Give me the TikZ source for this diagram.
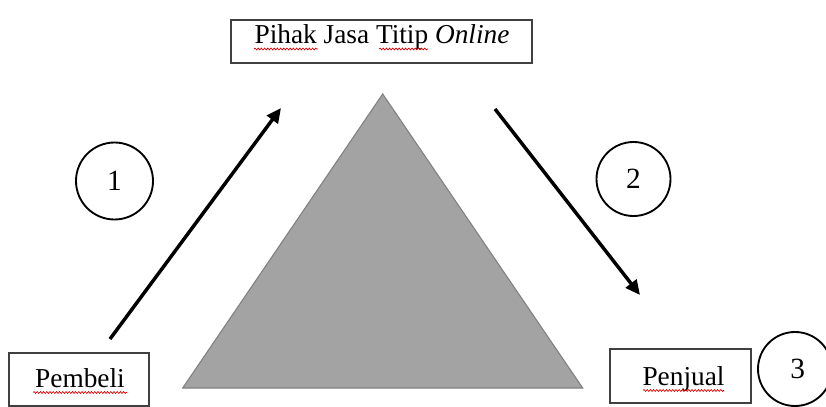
\documentclass[tikz,border=0pt]{standalone}
\usepackage{fontspec}
\setmainfont{Liberation Serif}
\usetikzlibrary{arrows.meta,decorations.pathmorphing}
\begin{document}
\begin{tikzpicture}[x=0.75pt,y=-0.75pt,
  box/.style={draw=black!75, line width=1pt, fill=white, inner sep=0pt},
  lbl/.style={anchor=base, inner sep=0pt, font=\fontsize{20.5}{24}\selectfont},
  num/.style={circle, draw, line width=1.4pt, inner sep=0pt, font=\fontsize{22}{26}\selectfont},
  flow/.style={line width=2.6pt, -{Triangle[length=11pt,width=10pt]}},
  typo/.style={draw=red!85!black, line width=0.5pt, decorate,
    decoration={snake, amplitude=0.7pt, segment length=2.4pt}}]
\useasboundingbox (0,0) rectangle (826,407);
\fill[white] (0,0) rectangle (826,407);

% central triangle
\draw[fill=black!36, draw=black!50, line width=0.8pt]
  (382.7,94) -- (582.7,388) -- (182.7,388) -- cycle;

% parties
\node[box, minimum width=225.75pt, minimum height=32.25pt] (topbox) at (381.5,41.5) {};
\node[lbl] (toptext) at (382,43) {Pihak Jasa Titip \textit{Online}};
\node[box, minimum width=105pt, minimum height=39.75pt] (buybox) at (79,379.5) {};
\node[lbl] (buytext) at (80,387) {Pembeli};
\node[box, minimum width=105.75pt, minimum height=40.5pt] (sellbox) at (680.5,376) {};
\node[lbl] (selltext) at (683.5,385) {Penjual};

% spelling marks under the words
\draw[typo] (254,49) -- (318,49);
\draw[typo] (379,49) -- (428,49);
\draw[typo] (33,392.5) -- (127,392.5);
\draw[typo] (643,390.5) -- (724,390.5);

% step numbers
\node[num, minimum size=57.75pt] (n1) at (114.5,181) {1};
\node[num, minimum size=55.5pt] (n2) at (633.5,179) {2};
\node[num, minimum size=55.5pt] (n3) at (795,369) {\hspace*{4pt}\raisebox{-2pt}{3}};

% flows
\coordinate (a1s) at (110,339);
\coordinate (a1e) at (281,108);
\coordinate (a2s) at (495,109);
\coordinate (a2e) at (640,295);
\draw[flow] (a1s) -- (a1e);
\draw[flow] (a2s) -- (a2e);
\end{tikzpicture}
\end{document}
